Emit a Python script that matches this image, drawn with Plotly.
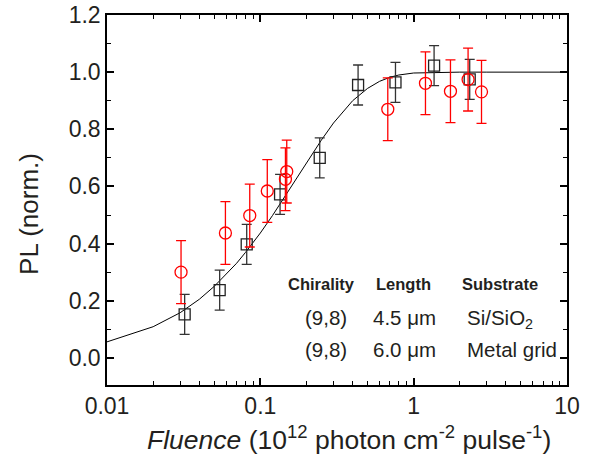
import plotly.graph_objects as go

# Black squares (Si/SiO2)
sq_x = [0.0321, 0.0543, 0.0815, 0.1345, 0.244, 0.434, 0.761, 1.359, 2.32]
sq_y = [0.152, 0.237, 0.397, 0.572, 0.700, 0.955, 0.964, 1.023, 0.975]
sq_err = [0.07, 0.07, 0.07, 0.07, 0.07, 0.07, 0.07, 0.07, 0.07]

# Red circles (Metal grid)
ci_x = [0.0304, 0.0592, 0.0853, 0.111, 0.1458, 0.1487, 0.678, 1.194, 1.738, 2.264, 2.77]
ci_y = [0.300, 0.437, 0.498, 0.584, 0.625, 0.652, 0.870, 0.961, 0.933, 0.974, 0.931]
ci_err = [0.11, 0.11, 0.11, 0.11, 0.11, 0.11, 0.11, 0.11, 0.11, 0.11, 0.11]

# Fit curve
fit_x = [0.01, 0.02, 0.03, 0.04, 0.05, 0.06, 0.07, 0.08, 0.09, 0.10, 0.12, 0.15,
         0.20, 0.25, 0.30, 0.35, 0.40, 0.50, 0.60, 0.70, 0.80, 1.0, 1.5, 2.0, 3.0, 5.0, 10.0]
fit_y = [0.056, 0.109, 0.158, 0.205, 0.250, 0.292, 0.331, 0.369, 0.404, 0.437, 0.498, 0.578,
         0.683, 0.762, 0.822, 0.866, 0.900, 0.943, 0.968, 0.982, 0.990, 0.997, 1.0, 1.0, 1.0, 1.0, 1.0]

x_tickvals = [0.01, 0.1, 1, 10]
x_ticktext = ["0.01", "0.1", "1", "10"]
y_tickvals = [0.0, 0.2, 0.4, 0.6, 0.8, 1.0, 1.2]
y_ticktext = ["0.0", "0.2", "0.4", "0.6", "0.8", "1.0", "1.2"]

x_title = "<i>Fluence</i> (10<sup>12</sup> photon cm<sup>-2</sup> pulse<sup>-1</sup>)"
y_title = "PL (norm.)"

FONT = "Liberation Sans, Arial, sans-serif"
TXT = "#231f20"

fig = go.Figure()
fig.add_trace(go.Scatter(x=fit_x, y=fit_y, mode="lines",
                         line=dict(color="black", width=1), showlegend=False))
fig.add_trace(go.Scatter(x=sq_x, y=sq_y, mode="markers",
                         marker=dict(symbol="square-open", size=11, color="#222222",
                                     line=dict(width=1.3, color="#222222")),
                         error_y=dict(type="data", array=sq_err, color="#333333",
                                      thickness=1.3, width=5),
                         showlegend=False))
fig.add_trace(go.Scatter(x=ci_x, y=ci_y, mode="markers",
                         marker=dict(symbol="circle-open", size=12, color="red",
                                     line=dict(width=1.3, color="red")),
                         error_y=dict(type="data", array=ci_err, color="red",
                                      thickness=1.3, width=5),
                         showlegend=False))

axis_common = dict(showline=True, linecolor="black", linewidth=1.5, mirror="allticks",
                   ticks="inside", ticklen=7, tickwidth=1.5, tickcolor="black",
                   showgrid=False, zeroline=False, automargin=False,
                   tickfont=dict(family=FONT, size=23, color=TXT))

fig.update_xaxes(type="log", range=[-2, 1], tickvals=x_tickvals, ticktext=x_ticktext,
                 minor=dict(ticks="inside", ticklen=4, tickwidth=1.2, tickcolor="black",
                            dtick="D1", showgrid=False),
                 **axis_common)
fig.update_yaxes(range=[-0.095, 1.2], tickvals=y_tickvals, ticktext=y_ticktext,
                 minor=dict(ticks="inside", ticklen=4, tickwidth=1.2, tickcolor="black",
                            dtick=0.1, showgrid=False),
                 **axis_common)

def px2paper(px, py):
    return (px - 107.3) / 460.0, (385.0 - py) / 370.0

ann = []
def add_text(text, px, py, size, bold=False, anchor="left", angle=0):
    x, y = px2paper(px, py)
    ann.append(dict(text=("<b>%s</b>" % text) if bold else text, x=x, y=y,
                    xref="paper", yref="paper", xanchor=anchor, yanchor="middle",
                    textangle=angle, showarrow=False,
                    font=dict(family=FONT, size=size, color=TXT)))

# axis titles
add_text(x_title, 349.5, 438, 26.5, anchor="center")
add_text(y_title, 28.5, 213.7, 26, anchor="center", angle=-90)

# key table
add_text("Chirality", 286, 284, 16.5, bold=True)
add_text("Length", 374, 284, 16.5, bold=True)
add_text("Substrate", 460, 284, 16.5, bold=True)
add_text("(9,8)", 349, 317, 20.5, anchor="right")
add_text("4.5 \u03bcm", 371, 317, 20.5)
add_text("Si/SiO<sub>2</sub>", 465, 319, 20.5)
add_text("(9,8)", 349, 349, 20.5, anchor="right")
add_text("6.0 \u03bcm", 371, 349, 20.5)
add_text("Metal grid", 465, 349, 20.5)

fig.update_layout(width=591, height=470, margin=dict(l=107, r=24, t=15, b=85),
                  plot_bgcolor="white", paper_bgcolor="white", annotations=ann)

fig.write_html("out.html", config={"displayModeBar": False},
               post_script="document.body.style.margin='0';document.body.style.padding='0';")
